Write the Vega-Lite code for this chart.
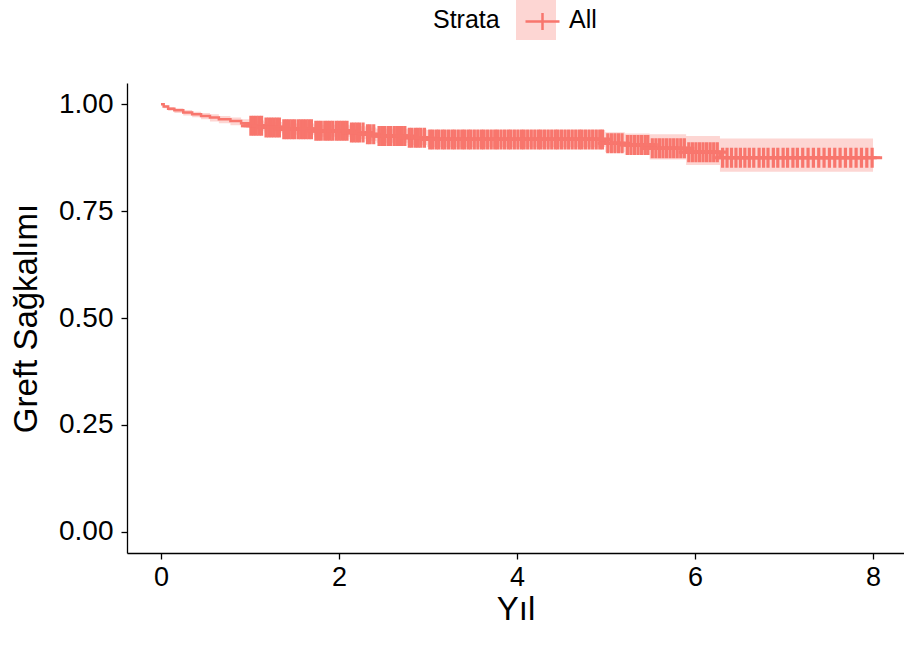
{
  "$schema": "https://vega.github.io/schema/vega-lite/v6.json",
  "width": 777,
  "height": 470,
  "autosize": {"type": "none"},
  "padding": {"left": 127, "top": 83, "right": 0, "bottom": 93},
  "background": "white",
  "config": {
    "view": {"stroke": null},
    "font": "Liberation Sans",
    "axis": {
      "grid": false,
      "domainColor": "black",
      "domainWidth": 1.3,
      "tickColor": "black",
      "tickWidth": 1.3,
      "tickSize": 6,
      "labelColor": "black",
      "labelFont": "Liberation Sans",
      "labelFontSize": 28,
      "titleFont": "Liberation Sans",
      "titleFontSize": 33,
      "titleFontWeight": "normal",
      "titleColor": "black"
    }
  },
  "datasets": {
    "km": [
      {"time": 0, "surv": 1, "lower": 1, "upper": 1, "strata": "All"},
      {"time": 0.03, "surv": 0.995, "lower": 0.991, "upper": 0.998, "strata": "All"},
      {"time": 0.08, "surv": 0.990, "lower": 0.985, "upper": 0.994, "strata": "All"},
      {"time": 0.15, "surv": 0.986, "lower": 0.980, "upper": 0.991, "strata": "All"},
      {"time": 0.25, "surv": 0.981, "lower": 0.974, "upper": 0.987, "strata": "All"},
      {"time": 0.35, "surv": 0.977, "lower": 0.970, "upper": 0.983, "strata": "All"},
      {"time": 0.45, "surv": 0.973, "lower": 0.965, "upper": 0.980, "strata": "All"},
      {"time": 0.55, "surv": 0.969, "lower": 0.960, "upper": 0.977, "strata": "All"},
      {"time": 0.65, "surv": 0.965, "lower": 0.956, "upper": 0.973, "strata": "All"},
      {"time": 0.78, "surv": 0.961, "lower": 0.951, "upper": 0.969, "strata": "All"},
      {"time": 0.90, "surv": 0.956, "lower": 0.946, "upper": 0.965, "strata": "All"},
      {"time": 1.00, "surv": 0.950, "lower": 0.939, "upper": 0.962, "strata": "All"},
      {"time": 1.16, "surv": 0.946, "lower": 0.934, "upper": 0.959, "strata": "All"},
      {"time": 1.36, "surv": 0.942, "lower": 0.929, "upper": 0.955, "strata": "All"},
      {"time": 1.72, "surv": 0.938, "lower": 0.924, "upper": 0.952, "strata": "All"},
      {"time": 2.12, "surv": 0.934, "lower": 0.919, "upper": 0.949, "strata": "All"},
      {"time": 2.30, "surv": 0.930, "lower": 0.914, "upper": 0.946, "strata": "All"},
      {"time": 2.42, "surv": 0.926, "lower": 0.910, "upper": 0.943, "strata": "All"},
      {"time": 2.77, "surv": 0.922, "lower": 0.905, "upper": 0.941, "strata": "All"},
      {"time": 2.99, "surv": 0.918, "lower": 0.900, "upper": 0.940, "strata": "All"},
      {"time": 4.99, "surv": 0.909, "lower": 0.888, "upper": 0.935, "strata": "All"},
      {"time": 5.21, "surv": 0.905, "lower": 0.882, "upper": 0.932, "strata": "All"},
      {"time": 5.49, "surv": 0.897, "lower": 0.871, "upper": 0.930, "strata": "All"},
      {"time": 5.90, "surv": 0.888, "lower": 0.858, "upper": 0.926, "strata": "All"},
      {"time": 6.28, "surv": 0.875, "lower": 0.842, "upper": 0.920, "strata": "All"},
      {"time": 8.00, "surv": 0.875, "lower": 0.842, "upper": 0.920, "strata": "All"},
      {"time": 8.08, "surv": 0.875, "lower": null, "upper": null, "strata": "All"}
    ],
    "censor": [
      {"time": 1.01, "surv": 0.950}, {"time": 1.04, "surv": 0.950}, {"time": 1.07, "surv": 0.950}, {"time": 1.10, "surv": 0.950}, {"time": 1.13, "surv": 0.950},
      {"time": 1.18, "surv": 0.946}, {"time": 1.21, "surv": 0.946}, {"time": 1.24, "surv": 0.946}, {"time": 1.27, "surv": 0.946}, {"time": 1.30, "surv": 0.946}, {"time": 1.33, "surv": 0.946},
      {"time": 1.38, "surv": 0.942}, {"time": 1.41, "surv": 0.942}, {"time": 1.44, "surv": 0.942}, {"time": 1.47, "surv": 0.942}, {"time": 1.50, "surv": 0.942}, {"time": 1.54, "surv": 0.942}, {"time": 1.57, "surv": 0.942}, {"time": 1.60, "surv": 0.942}, {"time": 1.63, "surv": 0.942}, {"time": 1.66, "surv": 0.942}, {"time": 1.69, "surv": 0.942},
      {"time": 1.74, "surv": 0.938}, {"time": 1.77, "surv": 0.938}, {"time": 1.80, "surv": 0.938}, {"time": 1.84, "surv": 0.938}, {"time": 1.87, "surv": 0.938}, {"time": 1.90, "surv": 0.938}, {"time": 1.93, "surv": 0.938}, {"time": 1.97, "surv": 0.938}, {"time": 2.00, "surv": 0.938}, {"time": 2.03, "surv": 0.938}, {"time": 2.06, "surv": 0.938}, {"time": 2.09, "surv": 0.938},
      {"time": 2.14, "surv": 0.934}, {"time": 2.17, "surv": 0.934}, {"time": 2.20, "surv": 0.934}, {"time": 2.23, "surv": 0.934}, {"time": 2.27, "surv": 0.934},
      {"time": 2.32, "surv": 0.930}, {"time": 2.35, "surv": 0.930}, {"time": 2.39, "surv": 0.930},
      {"time": 2.45, "surv": 0.926}, {"time": 2.48, "surv": 0.926}, {"time": 2.51, "surv": 0.926}, {"time": 2.55, "surv": 0.926}, {"time": 2.58, "surv": 0.926}, {"time": 2.62, "surv": 0.926}, {"time": 2.65, "surv": 0.926}, {"time": 2.68, "surv": 0.926}, {"time": 2.71, "surv": 0.926}, {"time": 2.74, "surv": 0.926},
      {"time": 2.79, "surv": 0.922}, {"time": 2.82, "surv": 0.922}, {"time": 2.86, "surv": 0.922}, {"time": 2.89, "surv": 0.922}, {"time": 2.92, "surv": 0.922}, {"time": 2.96, "surv": 0.922},
      {"time": 3.02, "surv": 0.918}, {"time": 3.05, "surv": 0.918}, {"time": 3.09, "surv": 0.918}, {"time": 3.12, "surv": 0.918}, {"time": 3.16, "surv": 0.918}, {"time": 3.19, "surv": 0.918}, {"time": 3.23, "surv": 0.918}, {"time": 3.27, "surv": 0.918}, {"time": 3.30, "surv": 0.918}, {"time": 3.34, "surv": 0.918}, {"time": 3.38, "surv": 0.918}, {"time": 3.41, "surv": 0.918}, {"time": 3.45, "surv": 0.918}, {"time": 3.48, "surv": 0.918}, {"time": 3.52, "surv": 0.918}, {"time": 3.56, "surv": 0.918}, {"time": 3.60, "surv": 0.918}, {"time": 3.63, "surv": 0.918}, {"time": 3.67, "surv": 0.918}, {"time": 3.71, "surv": 0.918}, {"time": 3.75, "surv": 0.918}, {"time": 3.78, "surv": 0.918}, {"time": 3.82, "surv": 0.918}, {"time": 3.86, "surv": 0.918}, {"time": 3.90, "surv": 0.918}, {"time": 3.93, "surv": 0.918}, {"time": 3.97, "surv": 0.918}, {"time": 4.01, "surv": 0.918}, {"time": 4.05, "surv": 0.918}, {"time": 4.08, "surv": 0.918}, {"time": 4.12, "surv": 0.918}, {"time": 4.16, "surv": 0.918}, {"time": 4.20, "surv": 0.918}, {"time": 4.24, "surv": 0.918}, {"time": 4.27, "surv": 0.918}, {"time": 4.31, "surv": 0.918}, {"time": 4.35, "surv": 0.918}, {"time": 4.39, "surv": 0.918}, {"time": 4.43, "surv": 0.918}, {"time": 4.46, "surv": 0.918}, {"time": 4.50, "surv": 0.918}, {"time": 4.54, "surv": 0.918}, {"time": 4.58, "surv": 0.918}, {"time": 4.62, "surv": 0.918}, {"time": 4.66, "surv": 0.918}, {"time": 4.70, "surv": 0.918}, {"time": 4.73, "surv": 0.918}, {"time": 4.77, "surv": 0.918}, {"time": 4.81, "surv": 0.918}, {"time": 4.85, "surv": 0.918}, {"time": 4.89, "surv": 0.918}, {"time": 4.93, "surv": 0.918}, {"time": 4.96, "surv": 0.918},
      {"time": 5.02, "surv": 0.909}, {"time": 5.06, "surv": 0.909}, {"time": 5.10, "surv": 0.909}, {"time": 5.14, "surv": 0.909}, {"time": 5.18, "surv": 0.909},
      {"time": 5.24, "surv": 0.905}, {"time": 5.28, "surv": 0.905}, {"time": 5.32, "surv": 0.905}, {"time": 5.36, "surv": 0.905}, {"time": 5.40, "surv": 0.905}, {"time": 5.44, "surv": 0.905}, {"time": 5.47, "surv": 0.905},
      {"time": 5.52, "surv": 0.897}, {"time": 5.56, "surv": 0.897}, {"time": 5.60, "surv": 0.897}, {"time": 5.64, "surv": 0.897}, {"time": 5.68, "surv": 0.897}, {"time": 5.72, "surv": 0.897}, {"time": 5.76, "surv": 0.897}, {"time": 5.80, "surv": 0.897}, {"time": 5.84, "surv": 0.897}, {"time": 5.88, "surv": 0.897},
      {"time": 5.93, "surv": 0.888}, {"time": 5.97, "surv": 0.888}, {"time": 6.01, "surv": 0.888}, {"time": 6.05, "surv": 0.888}, {"time": 6.09, "surv": 0.888}, {"time": 6.13, "surv": 0.888}, {"time": 6.17, "surv": 0.888}, {"time": 6.21, "surv": 0.888}, {"time": 6.25, "surv": 0.888},
      {"time": 6.31, "surv": 0.875}, {"time": 6.36, "surv": 0.875}, {"time": 6.41, "surv": 0.875}, {"time": 6.46, "surv": 0.875}, {"time": 6.51, "surv": 0.875}, {"time": 6.56, "surv": 0.875}, {"time": 6.61, "surv": 0.875}, {"time": 6.66, "surv": 0.875}, {"time": 6.72, "surv": 0.875}, {"time": 6.77, "surv": 0.875}, {"time": 6.82, "surv": 0.875}, {"time": 6.88, "surv": 0.875}, {"time": 6.93, "surv": 0.875}, {"time": 6.99, "surv": 0.875}, {"time": 7.04, "surv": 0.875}, {"time": 7.10, "surv": 0.875}, {"time": 7.15, "surv": 0.875}, {"time": 7.21, "surv": 0.875}, {"time": 7.27, "surv": 0.875}, {"time": 7.33, "surv": 0.875}, {"time": 7.39, "surv": 0.875}, {"time": 7.45, "surv": 0.875}, {"time": 7.51, "surv": 0.875}, {"time": 7.57, "surv": 0.875}, {"time": 7.63, "surv": 0.875}, {"time": 7.69, "surv": 0.875}, {"time": 7.75, "surv": 0.875}, {"time": 7.81, "surv": 0.875}, {"time": 7.87, "surv": 0.875}, {"time": 7.93, "surv": 0.875}, {"time": 7.99, "surv": 0.875}
    ]
  },
  "layer": [
    {
      "data": {"name": "km"},
      "mark": {"type": "area", "interpolate": "step-after", "opacity": 1},
      "encoding": {
        "x": {"field": "time", "type": "quantitative", "title": "Yıl",
              "scale": {"domain": [-0.382, 8.348], "nice": false, "zero": false},
              "axis": {"values": [0, 2, 4, 6, 8], "format": "d", "labelPadding": 5, "labelFontSize": 27, "titlePadding": 3}},
        "y": {"field": "lower", "type": "quantitative", "title": "Greft Sağkalımı",
              "scale": {"domain": [-0.05, 1.05], "nice": false, "zero": false},
              "axis": {"values": [0, 0.25, 0.5, 0.75, 1], "format": ".2f", "labelPadding": 8, "titlePadding": 15}},
        "y2": {"field": "upper"},
        "fill": {"field": "strata", "type": "nominal",
                 "scale": {"domain": ["All"], "range": ["#FDD6D3"]},
                 "legend": {"orient": "none", "legendX": 306, "legendY": -83, "direction": "horizontal",
                            "title": "Strata", "titleOrient": "left", "titleFontSize": 25, "titleFontWeight": "normal",
                            "titleColor": "black", "titlePadding": 16, "titleFont": "Liberation Sans",
                            "labelFontSize": 25, "labelColor": "black", "labelFont": "Liberation Sans", "labelOffset": 13,
                            "symbolType": "square", "symbolSize": 1600, "symbolStrokeWidth": 0, "symbolOpacity": 1, "padding": 0}}
      }
    },
    {
      "data": {"name": "km"},
      "mark": {"type": "line", "interpolate": "step-after", "strokeWidth": 2.5},
      "encoding": {
        "x": {"field": "time", "type": "quantitative", "title": "Yıl"},
        "y": {"field": "surv", "type": "quantitative", "title": "Greft Sağkalımı"},
        "stroke": {"field": "strata", "type": "nominal",
                   "scale": {"range": ["#F8766D"]},
                   "legend": {"orient": "none", "legendX": 394, "legendY": -83, "direction": "horizontal",
                              "title": null, "labelExpr": "''", "labelFontSize": 25,
                              "symbolType": "M-0.85,0H0.85M0,-0.42V0.42", "symbolSize": 1600,
                              "symbolStrokeWidth": 2.5, "symbolOpacity": 1, "padding": 0}}
      }
    },
    {
      "data": {"name": "censor"},
      "mark": {"type": "point", "shape": "M-1,0H1M0,-1V1", "filled": false, "size": 400,
               "strokeWidth": 3.2, "color": "#F8766D", "opacity": 1},
      "encoding": {
        "x": {"field": "time", "type": "quantitative", "title": "Yıl"},
        "y": {"field": "surv", "type": "quantitative", "title": "Greft Sağkalımı"}
      }
    }
  ]
}
